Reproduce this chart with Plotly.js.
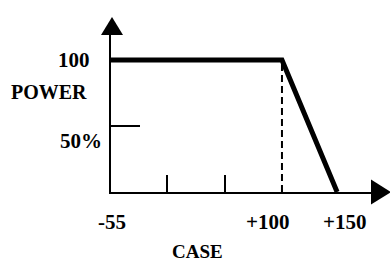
<!DOCTYPE html>
<html>
<head>
<meta charset="utf-8">
<script src="https://cdn.plot.ly/plotly-3.0.1.min.js"></script>
<style>html,body{margin:0;padding:0;background:#fff;}#chart{width:390px;height:262px;}</style>
</head>
<body>
<div id="chart"></div>
<script>
// Derating curve: power (%) vs case temperature
const caseTemp = [-55, 100, 150];
const powerPct = [100, 100, 0];
const kneeX = [100, 100];
const kneeY = [0, 100];
const xTickLabels = ["-55", "+100", "+150"];
const xTickValues = [-55, 100, 150];
const xMinorTicks = [-4, 48];
const yTickValues = [50];

const FONT = "Liberation Serif, Times New Roman, serif";

const traces = [
  {x: caseTemp, y: powerPct, mode: "lines", line: {color: "#000", width: 5}, hoverinfo: "skip"},
  {x: kneeX, y: kneeY, mode: "lines", line: {color: "#000", width: 2, dash: "7px,4px"}, hoverinfo: "skip"}
];

const labelShift = [1, -14, 7];
const annotations = xTickLabels.map((t, i) => ({
  text: t, x: xTickValues[i], xref: "x", y: 0, yref: "paper",
  xanchor: "center", yanchor: "middle", yshift: -30, xshift: labelShift[i],
  showarrow: false, font: {family: FONT, size: 21, color: "#000", weight: "bold"}
}));
annotations.push(
  {text: "100", x: 0, xref: "paper", y: 100, yref: "y", xanchor: "right", yanchor: "middle", xshift: -19, yshift: 0,
   showarrow: false, font: {family: FONT, size: 21, color: "#000", weight: "bold"}},
  {text: "POWER", x: 0, xref: "paper", y: 76, yref: "y", xanchor: "right", yanchor: "middle", xshift: -22,
   showarrow: false, font: {family: FONT, size: 20, color: "#000", weight: "bold"}},
  {text: "50%", x: 0, xref: "paper", y: 50, yref: "y", xanchor: "right", yanchor: "middle", xshift: -7, yshift: -15,
   showarrow: false, font: {family: FONT, size: 21, color: "#000", weight: "bold"}},
  {text: "CASE", x: 23, xref: "x", y: 0, yref: "paper", xanchor: "center", yanchor: "middle", yshift: -59,
   showarrow: false, font: {family: FONT, size: 19, color: "#000", weight: "bold"}}
);

const shapes = [
  {type: "path", xref: "paper", yref: "paper", xsizemode: "pixel", ysizemode: "pixel",
   xanchor: 1, yanchor: 0, path: "M-2,12.5 L18,0 L-2,-12.5 Z", fillcolor: "#000", line: {width: 0}},
  {type: "path", xref: "paper", yref: "paper", xsizemode: "pixel", ysizemode: "pixel",
   xanchor: 0, yanchor: 1, path: "M-10,-1 L12,-1 L1,17 Z", fillcolor: "#000", line: {width: 0}}
];

const layout = {
  width: 390, height: 262,
  margin: {l: 111, r: 17, t: 34, b: 70},
  paper_bgcolor: "#fff", plot_bgcolor: "#fff",
  showlegend: false,
  xaxis: {
    range: [-55, -55 + 262 / 1.103], showgrid: false, zeroline: false,
    showline: true, linecolor: "#000", linewidth: 2,
    tickmode: "array", tickvals: [], ticks: "", showticklabels: false,
    minor: {tickmode: "array", tickvals: xMinorTicks, ticks: "inside", ticklen: 17, tickwidth: 2, tickcolor: "#000", showgrid: false}
  },
  yaxis: {
    range: [0, 158 / 1.32], showgrid: false, zeroline: false,
    showline: true, linecolor: "#000", linewidth: 2,
    tickmode: "array", tickvals: yTickValues, ticks: "inside", ticklen: 29, tickwidth: 2, tickcolor: "#000",
    showticklabels: false
  },
  annotations: annotations,
  shapes: shapes
};

Plotly.newPlot("chart", traces, layout, {staticPlot: true, displayModeBar: false});
</script>
</body>
</html>
